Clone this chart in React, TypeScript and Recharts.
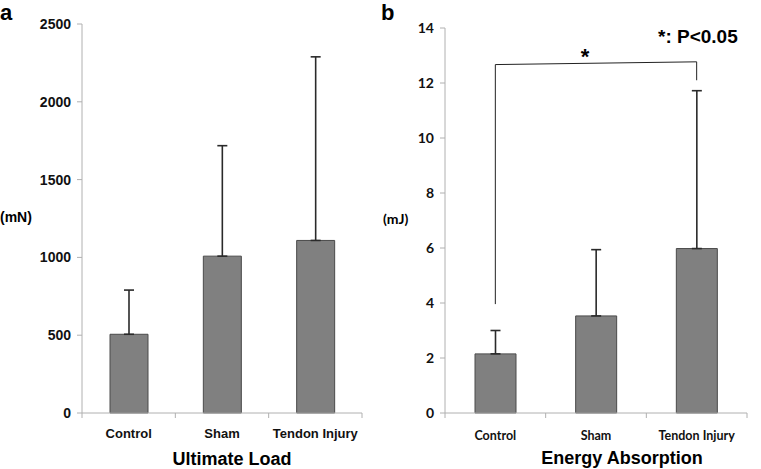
import { Bar, BarChart, ErrorBar, ReferenceLine, XAxis, YAxis } from 'recharts'

const categories = ['Control', 'Sham', 'Tendon Injury']

// panel a: ultimate load (mN), mean + SD
const loadMean = [506, 1008, 1109]
const loadSd = [284, 710, 1180]
const loadTicks = [0, 500, 1000, 1500, 2000, 2500]

// panel b: energy absorption (mJ), mean + SD
const energyMean = [2.15, 3.53, 5.98]
const energySd = [0.85, 2.41, 5.74]
const energyTicks = [0, 2, 4, 6, 8, 10, 12, 14]

// significance bracket Control vs Tendon Injury
const bracketLeftFrom = 3.96
const bracketLeftTo = 12.67
const bracketRightFrom = 12.1
const bracketRightTo = 12.77

const loadData = categories.map((name, i) => ({ name, mean: loadMean[i], err: [0, loadSd[i]] }))
const energyData = categories.map((name, i) => ({ name, mean: energyMean[i], err: [0, energySd[i]] }))

const arial = '"Liberation Sans", Arial, sans-serif'
const lato = 'Lato, "Open Sans", sans-serif'
const axisGray = '#b0b0b0'

function makeTick(band: number, count: number, font: string, size: number, weight: number, dy: number) {
  return (props: any) => {
    const { x, y, payload, index } = props
    return (
      <g>
        <line x1={x - band / 2} x2={x - band / 2} y1={y} y2={y + 5} stroke={axisGray} />
        {index === count - 1 && (
          <line x1={x + band / 2} x2={x + band / 2} y1={y} y2={y + 5} stroke={axisGray} />
        )}
        <text x={x} y={y + dy} textAnchor="middle" fontFamily={font} fontSize={size} fontWeight={weight} fill="#111">
          {payload.value}
        </text>
      </g>
    )
  }
}

export default function App() {
  return (
    <div style={{ position: 'absolute', left: 0, top: 0, width: 761, height: 469, background: '#fff' }}>
      <div style={{ position: 'absolute', left: 0, top: 0 }}>
        <BarChart width={380} height={469} data={loadData} margin={{ top: 24, right: 18, bottom: 26, left: 22 }}>
          <XAxis
            dataKey="name"
            height={30}
            stroke={axisGray}
            tickLine={false}
            tickSize={0}
            tickMargin={0}
            interval={0}
            tick={makeTick(280 / 3, categories.length, arial, 13, 700, 25)}
          />
          <YAxis
            width={60}
            domain={[0, 2500]}
            ticks={loadTicks}
            stroke={axisGray}
            tickSize={5}
            tickMargin={6}
            tick={{ fill: '#111', fontFamily: arial, fontSize: 14, fontWeight: 700 }}
          />
          <Bar dataKey="mean" fill="#808080" stroke="#4a4a4a" strokeWidth={1} barSize={38} isAnimationActive={false}>
            <ErrorBar dataKey="err" width={5} stroke="#2a2a2a" strokeWidth={1.6} direction="y" />
          </Bar>
        </BarChart>
      </div>
      <div style={{ position: 'absolute', left: 380, top: 0 }}>
        <BarChart width={381} height={469} data={energyData} margin={{ top: 28, right: 14, bottom: 26, left: 25 }}>
          <XAxis
            dataKey="name"
            height={30}
            stroke={axisGray}
            tickLine={false}
            tickSize={0}
            tickMargin={0}
            interval={0}
            tick={makeTick(302 / 3, categories.length, lato, 12.5, 700, 27)}
          />
          <YAxis
            width={40}
            domain={[0, 14]}
            ticks={energyTicks}
            stroke={axisGray}
            tickSize={5}
            tickMargin={6}
            tick={{ fill: '#111', fontFamily: lato, fontSize: 14, fontWeight: 700 }}
          />
          <Bar dataKey="mean" fill="#808080" stroke="#4a4a4a" strokeWidth={1} barSize={41} isAnimationActive={false}>
            <ErrorBar dataKey="err" width={5} stroke="#2a2a2a" strokeWidth={1.6} direction="y" />
          </Bar>
          <ReferenceLine
            segment={[{ x: 'Control', y: bracketLeftFrom }, { x: 'Control', y: bracketLeftTo }]}
            stroke="#222"
            ifOverflow="visible"
          />
          <ReferenceLine
            segment={[{ x: 'Control', y: bracketLeftTo }, { x: 'Tendon Injury', y: bracketRightTo }]}
            stroke="#222"
            ifOverflow="visible"
          />
          <ReferenceLine
            segment={[{ x: 'Tendon Injury', y: bracketRightFrom }, { x: 'Tendon Injury', y: bracketRightTo }]}
            stroke="#222"
            ifOverflow="visible"
          />
        </BarChart>
      </div>
      <svg width={761} height={469} style={{ position: 'absolute', left: 0, top: 0, pointerEvents: 'none' }}>
        <text x={0} y={20} fontFamily={arial} fontSize={22} fontWeight={700} fill="#000">a</text>
        <text x={381} y={20} fontFamily={arial} fontSize={22} fontWeight={700} fill="#000">b</text>
        <text x={0} y={222} fontFamily={arial} fontSize={14} fontWeight={700} fill="#000">(mN)</text>
        <text x={383} y={224} fontFamily={lato} fontSize={14} fontWeight={700} fill="#000">(mJ)</text>
        <text x={232} y={465} textAnchor="middle" fontFamily={arial} fontSize={18} fontWeight={700} fill="#000">Ultimate Load</text>
        <text x={622} y={464} textAnchor="middle" fontFamily={arial} fontSize={18} fontWeight={700} fill="#000">Energy Absorption</text>
        <text x={585} y={64} textAnchor="middle" fontFamily={arial} fontSize={22} fontWeight={700} fill="#000">*</text>
        <text x={658} y={43} fontFamily={arial} fontSize={19} fontWeight={700} fill="#000">*: P&lt;0.05</text>
      </svg>
    </div>
  )
}
